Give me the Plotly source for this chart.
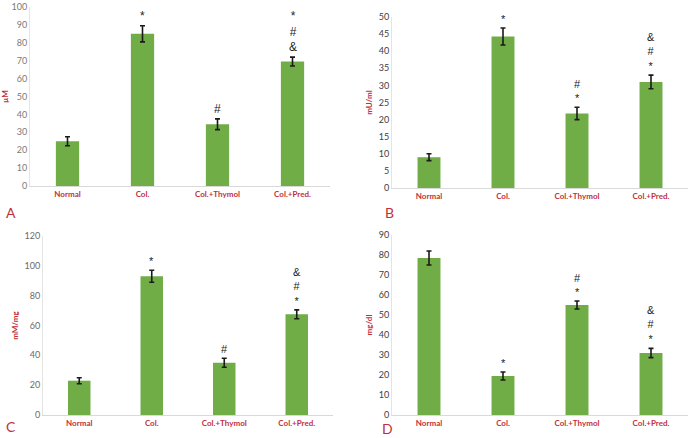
import plotly.graph_objects as go

groups = ["Normal", "Col.", "Col.+Thymol", "Col.+Pred."]

# panel A (µM)
a_vals = [25, 85, 34.5, 69.5]
a_err = [2.5, 4.5, 3, 2.5]
a_marks = ["", "*", "#", "*<br>#<br>&"]

# panel B (mU/ml)
b_vals = [9, 44.3, 21.8, 31]
b_err = [1, 2.5, 1.8, 2]
b_marks = ["", "*", "#<br>*", "&<br>#<br>*"]

# panel C (mM/mg)
c_vals = [23, 93, 35, 67.5]
c_err = [2, 4, 3, 3]
c_marks = ["", "*", "#", "&<br>#<br>*"]

# panel D (mg/dl)
d_vals = [78.5, 19.5, 55, 31]
d_err = [3.5, 2, 2, 2.3]
d_marks = ["", "*", "#<br>*", "&<br>#<br>*"]

GREEN = "#70AD47"
RED = "#C0303A"
W, H = 695, 438

# letter, values, errors, marks, unit, y range, dtick, x px span, y px (zero, top),
# letter pos, mark size, tick colour
panels = [
    ("A", a_vals, a_err, a_marks, "µM", [0, 100], 10, (30, 330), (186, 7), (4, 213), 12, "#7a7a7a"),
    ("B", b_vals, b_err, b_marks, "mU/ml", [0, 50], 5, (392, 688), (188, 17), (383, 213), 11, "#404040"),
    ("C", c_vals, c_err, c_marks, "mM/mg", [0, 120], 20, (43, 333), (415, 236), (4, 426), 11, "#6a6a6a"),
    ("D", d_vals, d_err, d_marks, "mg/dl", [0, 90], 10, (392, 688), (415, 235), (380, 428), 11, "#404040"),
]

fig = go.Figure()
layout = {}
for i, (letter, vals, err, marks, unit, yr, dt, xs, ys, lpos, msize, tcol) in enumerate(panels):
    n = "" if i == 0 else str(i + 1)
    xa, ya = "x" + n, "y" + n
    fig.add_trace(go.Bar(
        x=groups, y=vals, xaxis=xa, yaxis=ya, width=0.31,
        marker=dict(color=GREEN, line=dict(width=0)),
        error_y=dict(type="data", array=err, color="#1a1a1a", thickness=1.6, width=2.5),
        showlegend=False,
    ))
    layout["xaxis" + n] = dict(
        domain=[xs[0] / W, xs[1] / W], anchor=ya, range=[-0.5, 3.5], automargin=False,
        showline=True, linecolor="#D9D9D9", linewidth=1, ticks="",
        tickfont=dict(family="Lato", size=8, color=RED, weight="bold"),
        showgrid=False, fixedrange=True,
    )
    layout["yaxis" + n] = dict(
        domain=[1 - ys[0] / H, 1 - ys[1] / H], anchor=xa, range=yr, dtick=dt,
        automargin=False, showline=True, linecolor="#E4E4E4", linewidth=1, ticks="",
        showgrid=False, zeroline=False,
        tickfont=dict(family="Lato", size=9, color=tcol),
        title=dict(text=unit, standoff=4,
                   font=dict(family="Lato", size=8, color=RED, weight="bold")),
    )
    for g, v, e, m in zip(groups, vals, err, marks):
        if m:
            fig.add_annotation(x=g, y=v + e, xref=xa, yref=ya, text=m, showarrow=False,
                               yanchor="bottom", yshift=1,
                               font=dict(family="Liberation Sans", size=msize,
                                         color="#222222"))
    fig.add_annotation(x=lpos[0] / W, y=1 - lpos[1] / H, xref="paper", yref="paper",
                       text=letter, showarrow=False, xanchor="left", yanchor="middle",
                       font=dict(family="Lato", size=14, color=RED))

fig.update_layout(
    width=W, height=H, margin=dict(l=0, r=0, t=0, b=0),
    paper_bgcolor="white", plot_bgcolor="white", **layout,
)
fig.write_html("out.html", config={"displayModeBar": False},
               post_script="document.body.style.margin='0px';")
